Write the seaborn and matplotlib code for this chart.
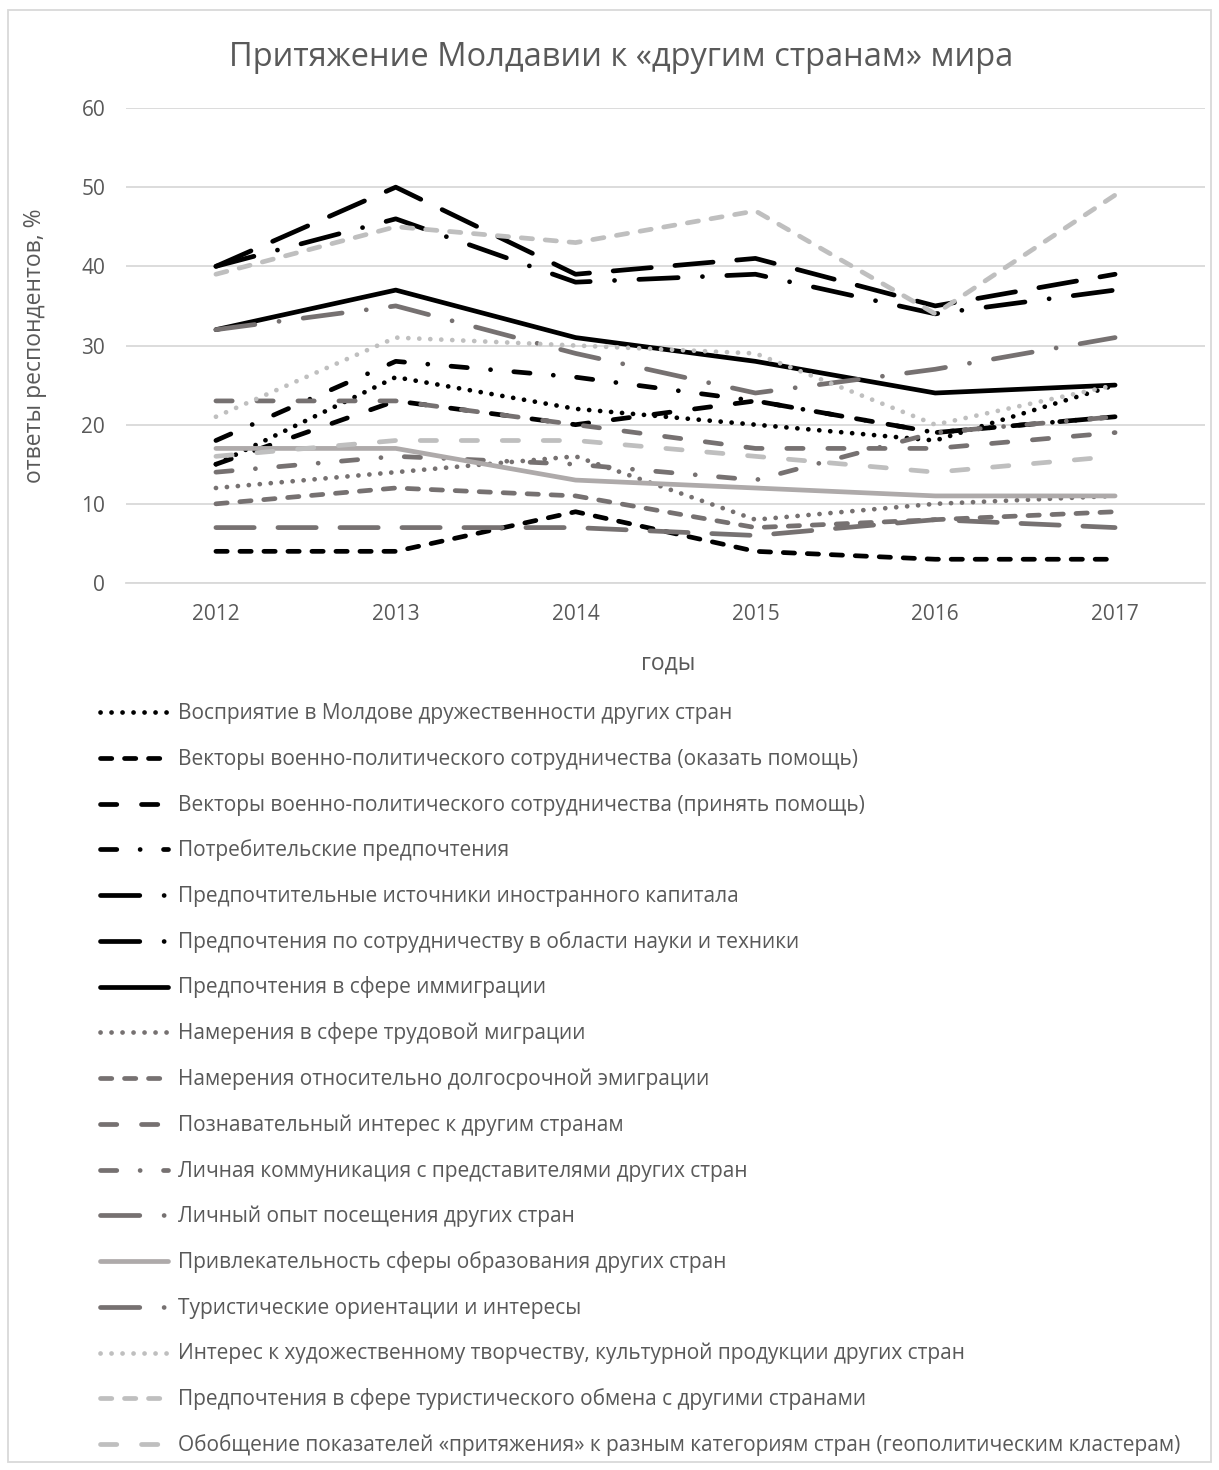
import matplotlib
matplotlib.use('Agg')
import matplotlib.pyplot as plt
from matplotlib.lines import Line2D
from matplotlib.patches import Rectangle
import seaborn as sns
import pandas as pd

# ---- data ----
years = [2012, 2013, 2014, 2015, 2016, 2017]

labels = [
    'Восприятие в Молдове дружественности других стран',
    'Векторы военно-политического сотрудничества (оказать помощь)',
    'Векторы военно-политического сотрудничества (принять помощь)',
    'Потребительские предпочтения',
    'Предпочтительные источники иностранного капитала',
    'Предпочтения по сотрудничеству в области науки и техники',
    'Предпочтения в сфере иммиграции',
    'Намерения в сфере трудовой миграции',
    'Намерения относительно долгосрочной эмиграции',
    'Познавательный интерес к другим странам',
    'Личная коммуникация с представителями других стран',
    'Личный опыт посещения других стран',
    'Привлекательность сферы образования других стран',
    'Туристические ориентации и интересы',
    'Интерес к художественному творчеству, культурной продукции других стран',
    'Предпочтения в сфере туристического обмена с другими странами',
    'Обобщение показателей «притяжения» к разным категориям стран (геополитическим кластерам)',
]

friendliness = [15, 26, 22, 20, 18, 25]
military_give = [4, 4, 9, 4, 3, 3]
military_take = [15, 23, 20, 23, 19, 21]
consumer = [18, 28, 26, 23, 19, 21]
capital = [40, 50, 39, 41, 35, 39]
science = [40, 46, 38, 39, 34, 37]
immigration = [32, 37, 31, 28, 24, 25]
labour_migration = [12, 14, 16, 8, 10, 11]
emigration = [10, 12, 11, 7, 8, 9]
cognitive = [23, 23, 20, 17, 17, 19]
communication = [14, 16, 15, 13, 19, 21]
visits = [32, 35, 29, 24, 27, 31]
education = [17, 17, 13, 12, 11, 11]
tourism = [7, 7, 7, 6, 8, 7]
culture = [21, 31, 30, 29, 20, 25]
tourist_exchange = [39, 45, 43, 47, 34, 49]
summary = [16, 18, 18, 16, 14, 16]

series = [friendliness, military_give, military_take, consumer, capital, science,
          immigration, labour_migration, emigration, cognitive, communication, visits,
          education, tourism, culture, tourist_exchange, summary]

# ---- styles ----
BLACK, GRAY, LIGHT, LIGHT_SOLID = '#000000', '#767171', '#BFBFBF', '#AEAAAA'
TEXT = '#595959'
GRID = '#D9D9D9'


def dash(*px):
    # dash pattern given in pixels (dpi 100) -> points
    return (0, tuple(v * 0.72 for v in px))


dot = dash(0.1, 10.9)
sysdash = dash(11.3, 12.7)
mdash = dash(16.3, 24.7)
lgdash = dash(38.3, 23.7)
dashdot = dash(16.3, 23.3, 0.1, 23.3)
lgdashdot = dash(39.3, 24.3, 0.1, 24.3)

colors = [BLACK] * 7 + [GRAY] * 5 + [LIGHT_SOLID, GRAY] + [LIGHT] * 3
plot_styles = [dot, sysdash, mdash, dashdot, lgdash, lgdashdot, '-',
               dot, sysdash, mdash, dashdot, lgdashdot, '-', lgdash,
               dot, sysdash, mdash]
legend_styles = list(plot_styles)
legend_styles[4] = lgdashdot
legend_styles[13] = lgdashdot

LW = 3.4

plt.rcParams['lines.scale_dashes'] = False
sns.set_style('white')
plt.rcParams['font.family'] = ['Open Sans', 'DejaVu Sans']

W, H = 1219, 1470
fig = plt.figure(figsize=(W / 100, H / 100), dpi=100)
ax = fig.add_axes([126 / W, 1 - 583 / H, (1205 - 126) / W, (583 - 108) / H])

for vals, col, ls in zip(series, colors, plot_styles):
    df = pd.DataFrame({'year': years, 'value': vals})
    sns.lineplot(data=df, x='year', y='value', ax=ax, color=col, lw=LW,
                 linestyle=ls, dash_capstyle='round', solid_capstyle='round',
                 solid_joinstyle='round', legend=False)

ax.set_xlim(2011.5, 2017.5)
ax.set_ylim(0, 60)
ax.set_yticks(range(0, 61, 10))
ax.set_xticks(years)
ax.set_xticklabels([str(y) for y in years])
ax.yaxis.grid(True, color=GRID, lw=1.3)
ax.xaxis.grid(False)
ax.set_axisbelow(True)
for s in ['top', 'right', 'left']:
    ax.spines[s].set_visible(False)
ax.spines['bottom'].set_color(GRID)
ax.spines['bottom'].set_linewidth(1.3)
ax.tick_params(axis='both', length=0, labelsize=15, labelcolor=TEXT)
ax.tick_params(axis='x', pad=15)
ax.tick_params(axis='y', pad=15)
ax.set_xlabel('')
ax.set_ylabel('')

fig.text(621 / W, 1 - 66 / H, 'Притяжение Молдавии к «другим странам» мира',
         ha='center', va='baseline', fontsize=23.5, color=TEXT)
fig.text(35 / W, 1 - 346 / H, 'ответы респондентов, %', rotation=90,
         ha='center', va='center', fontsize=16.5, color=TEXT)
fig.text(668 / W, 1 - 664 / H, 'годы', ha='center', va='center',
         fontsize=16.5, color=TEXT)

# legend drawn row by row below the axes
row0, pitch = 712, 45.75
for i, (lab, col, ls) in enumerate(zip(labels, colors, legend_styles)):
    y = 1 - (row0 + i * pitch) / H
    fig.add_artist(Line2D([100 / W, 168 / W], [y, y], transform=fig.transFigure,
                          color=col, lw=LW, linestyle=ls, dash_capstyle='round',
                          solid_capstyle='round'))
    fig.text(178 / W, 1 - (row0 + i * pitch + 7) / H, lab, ha='left',
             va='baseline', fontsize=15, color=TEXT)

fig.patches.append(Rectangle((8 / W, 8 / H), (1211 - 8) / W, (1460 - 8) / H,
                             transform=fig.transFigure, fill=False,
                             edgecolor=GRID, lw=1.3))

fig.savefig('out.png', dpi=100)
